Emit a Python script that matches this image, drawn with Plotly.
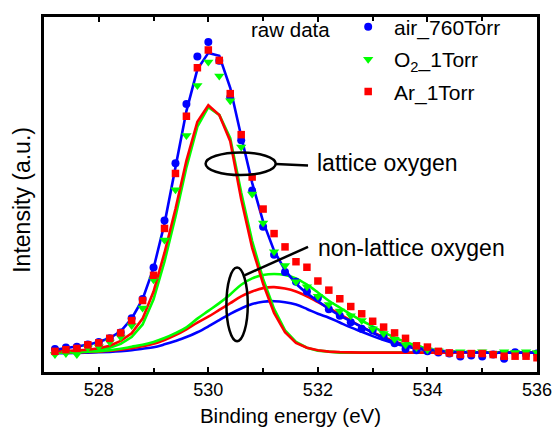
import plotly.graph_objects as go

# Binding energy grid (eV)
energy = [round(527.2 + 0.2 * i, 1) for i in range(45)]

# Raw O 1s spectra (a.u.)
air_760 = [237, 253, 260, 283, 310, 347, 407, 553, 753, 1077,
           1563, 2153, 2763, 3253, 3403, 3210, 2830, 2390, 1870, 1497,
           1210, 1030, 930, 830, 763, 647, 580, 513, 447, 430,
           363, 297, 237, 223, 213, 200, 190, 160, 170, 160,
           180, 137, 203, 180, 190]
o2_1torr = [180, 190, 180, 250, 260, 310, 360, 480, 660, 950,
            1360, 1880, 2437, 2953, 3197, 3053, 2797, 2320, 1835, 1537,
            1240, 1097, 930, 880, 780, 697, 630, 580, 530, 447,
            397, 337, 280, 253, 230, 220, 200, 210, 200, 210,
            190, 210, 200, 210, 200]
ar_1torr = [213, 230, 243, 280, 300, 347, 403, 530, 737, 997,
            1480, 2047, 2637, 3137, 3320, 3213, 2870, 2447, 2010, 1680,
            1427, 1290, 1137, 1080, 938, 844, 755, 675, 600, 523,
            463, 403, 347, 270, 257, 213, 197, 180, 190, 190,
            180, 163, 163, 163, 147]

# Fitted envelope (air) and fitted components
air_envelope = [230, 245, 260, 280, 310, 350, 420, 550, 750, 1070,
                1530, 2110, 2690, 3120, 3290, 3260, 2930, 2430, 1950, 1550,
                1250, 1050, 910, 810, 730, 650, 580, 525, 465, 405,
                350, 305, 272, 248, 232, 220, 210, 205, 200, 200,
                200, 200, 200, 200, 200]
air_nonlattice = [195, 195, 197, 200, 203, 208, 215, 225, 240, 255,
                  285, 320, 360, 410, 470, 535, 600, 655, 700, 725,
                  730, 720, 695, 650, 600, 560, 510, 460, 415, 370,
                  330, 295, 265, 240, 225, 212, 205, 200, 198, 198,
                  198, 198, 198, 198, 198]
o2_nonlattice = [200, 200, 205, 210, 215, 225, 240, 260, 280, 310,
                 350, 400, 460, 550, 630, 710, 800, 900, 965, 1000,
                 1010, 1000, 965, 900, 820, 735, 665, 595, 530, 470,
                 410, 355, 310, 270, 240, 220, 210, 203, 200, 200,
                 200, 200, 200, 200, 200]
ar_nonlattice = [200, 200, 203, 207, 210, 220, 230, 245, 265, 290,
                 330, 380, 440, 510, 570, 640, 710, 780, 830, 865,
                 875, 860, 830, 780, 720, 660, 595, 530, 465, 410,
                 360, 315, 280, 250, 230, 217, 208, 203, 200, 200,
                 200, 200, 200, 200, 200]
o2_lattice = [200, 205, 210, 215, 230, 250, 290, 360, 490, 750,
              1140, 1600, 2110, 2530, 2730, 2650, 2410, 1850, 1350, 960,
              650, 430, 310, 250, 220, 210, 200, 200, 200, 200,
              200, 200, 200, 200, 200, 200, 200, 200, 200, 200,
              200, 200, 200, 200, 200]
ar_lattice = [210, 215, 220, 230, 245, 270, 320, 400, 550, 830,
              1230, 1680, 2180, 2580, 2750, 2650, 2380, 1780, 1280, 910,
              610, 410, 300, 250, 225, 210, 205, 200, 200, 200,
              200, 200, 200, 200, 200, 200, 200, 200, 200, 200,
              200, 200, 200, 200, 200]

BLUE = "#0000ff"
GREEN = "#00ff00"
RED = "#ff0000"
LW = 2.6

fig = go.Figure()

# component curves
for ys, col, shape in [
    (air_nonlattice, BLUE, "spline"),
    (ar_nonlattice, RED, "spline"),
    (o2_nonlattice, GREEN, "spline"),
    (o2_lattice, GREEN, "linear"),
    (ar_lattice, RED, "linear"),
]:
    fig.add_trace(go.Scatter(x=energy, y=ys, mode="lines", showlegend=False,
                             line=dict(color=col, width=LW, shape=shape),
                             hoverinfo="skip"))

# envelope fit
fig.add_trace(go.Scatter(x=energy, y=air_envelope, mode="lines", showlegend=False,
                         line=dict(color=BLUE, width=LW), hoverinfo="skip"))

# raw data (leading no-break space widens the symbol-to-label gap)
NBSP = "\u00a0"
fig.add_trace(go.Scatter(x=energy, y=air_760, mode="markers", name=NBSP + "air_760Torr",
                         legendgroup="a",
                         marker=dict(symbol="circle", size=8, color=BLUE)))
fig.add_trace(go.Scatter(x=energy, y=o2_1torr, mode="markers",
                         name=NBSP + "O<sub>2</sub>_1Torr", legendgroup="b",
                         marker=dict(symbol="triangle-down", size=9, color=GREEN)))
fig.add_trace(go.Scatter(x=energy, y=ar_1torr, mode="markers", name=NBSP + "Ar_1Torr",
                         legendgroup="c",
                         marker=dict(symbol="square", size=7.5, color=RED)))

FONT = "Liberation Sans, Arial, sans-serif"

# legend heading
fig.add_annotation(x=0.415, y=0.966, xref="paper", yref="paper", text="raw data",
                   showarrow=False, xanchor="left", yanchor="middle",
                   font=dict(family=FONT, size=20.5, color="black"))

# y-axis title
fig.add_annotation(x=-0.044, y=0.486, xref="paper", yref="paper", text="Intensity (a.u.)",
                   textangle=-90, showarrow=False, xanchor="center", yanchor="middle",
                   font=dict(family=FONT, size=23, color="black"))

# markup: ellipses, leader lines and labels
fig.add_shape(type="circle", xref="x", yref="y", x0=529.95, x1=531.23, y0=2030, y1=2264,
              line=dict(color="black", width=2.5))
fig.add_shape(type="line", xref="x", yref="y", x0=531.23, x1=531.82, y0=2145, y1=2130,
              line=dict(color="black", width=2.5))
fig.add_annotation(x=531.95, y=2150, xref="x", yref="y", text="lattice oxygen",
                   showarrow=False, xanchor="left", yanchor="middle",
                   font=dict(family=FONT, size=23, color="black"))

fig.add_shape(type="circle", xref="x", yref="y", x0=530.33, x1=530.72, y0=317, y1=1077,
              line=dict(color="black", width=2.5))
fig.add_shape(type="line", xref="x", yref="y", x0=530.66, x1=531.82, y0=997, y1=1290,
              line=dict(color="black", width=2.5))
fig.add_annotation(x=531.96, y=1280, xref="x", yref="y", text="non-lattice oxygen",
                   showarrow=False, xanchor="left", yanchor="middle",
                   font=dict(family=FONT, size=23, color="black"))

fig.update_layout(
    width=559, height=432,
    margin=dict(l=44, r=16, t=7, b=59),
    paper_bgcolor="white", plot_bgcolor="white",
    font=dict(family=FONT, size=18, color="black"),
    legend=dict(x=0.617, y=1.029, xanchor="left", yanchor="top",
                bgcolor="rgba(0,0,0,0)", font=dict(size=21),
                itemwidth=30, tracegroupgap=2),
    xaxis=dict(range=[527, 536], dtick=2, tick0=528, ticks="inside", ticklen=5,
               tickwidth=1.5, tickcolor="black", showline=True, linewidth=2.5,
               linecolor="black", mirror="ticks", showgrid=False, zeroline=False,
               minor=dict(dtick=1, tick0=527, ticks="inside", ticklen=4, tickwidth=1.5,
                          tickcolor="black", showgrid=False),
               title=dict(text="Binding energy (eV)", font=dict(size=20.5), standoff=10),
               tickfont=dict(size=18)),
    yaxis=dict(range=[0, 3660], showticklabels=False, ticks="", showline=True,
               linewidth=2.5, linecolor="black", mirror=True, showgrid=False,
               zeroline=False),
)

fig.write_html("out.html")
